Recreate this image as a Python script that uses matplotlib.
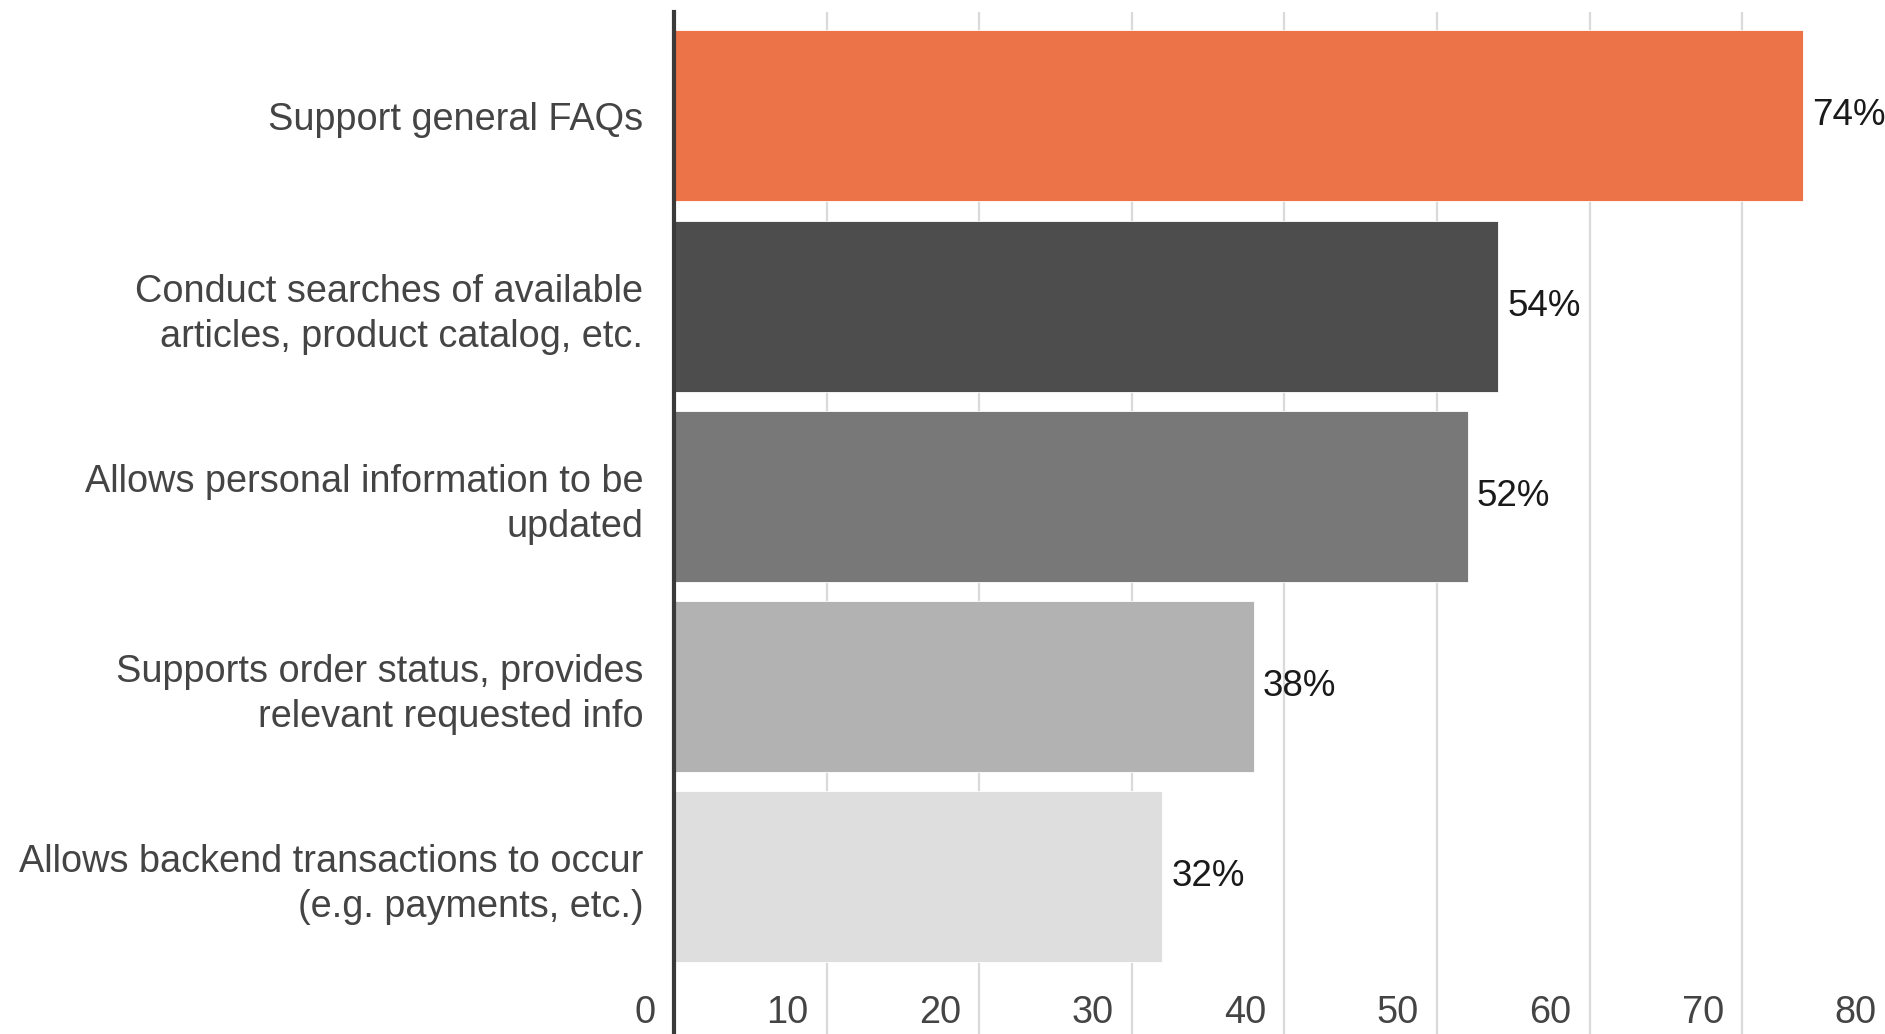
import matplotlib.pyplot as plt

# Survey results: share of respondents per chatbot capability
categories = [
    "Support general FAQs",
    "Conduct searches of available\narticles, product catalog, etc.",
    "Allows personal information to be\nupdated",
    "Supports order status, provides\nrelevant requested info",
    "Allows backend transactions to occur\n(e.g. payments, etc.)",
]
values = [74, 54, 52, 38, 32]
bar_colors = ["#EB7347", "#4D4D4D", "#787878", "#B3B2B3", "#DEDEDE"]
x_ticks = [0, 10, 20, 30, 40, 50, 60, 70, 80]

plt.rcParams['font.family'] = ['Liberation Sans', 'DejaVu Sans']

W, H = 1885, 1034
fig = plt.figure(figsize=(W / 100, H / 100), dpi=100)

# axes spans down to the bottom edge; x=0 sits at 674 px, ~15.26 px per unit
left = 674 / W
right = (674 + 80 * 15.26) / W
top = 1 - 12 / H
ax = fig.add_axes([left, 0, right - left, top])

ypos = list(range(len(categories)))
ax.barh(ypos, values, height=0.9, color=bar_colors,
        edgecolor="#ffffff", linewidth=0.6, zorder=3)

ax.set_xlim(0, 80)
ax.set_ylim(4.83, -0.547)

# vertical gridlines, the zero line drawn as a dark axis
for t in x_ticks[1:]:
    ax.axvline(t, color="#DADADA", linewidth=1.6, zorder=1)
ax.axvline(0, color="#3a3a3a", linewidth=3.0, zorder=4, clip_on=False)

for s in ax.spines.values():
    s.set_visible(False)

ax.set_xticks([])
ax.set_yticks(ypos)
ax.set_yticklabels(categories, fontsize=27.3, color="#444444",
                   linespacing=1.32)
ax.tick_params(axis="y", length=0, pad=22)

# tick numbers sit inside the plot area, just left of each gridline
for t in x_ticks:
    ax.annotate(str(t), xy=(t, 4.72), xytext=(-13, 0),
                textcoords="offset points", ha="right", va="center",
                fontsize=27.3, color="#444444")

# value labels at the end of each bar
for y, v in zip(ypos, values):
    ax.annotate(f"{v}%", xy=(v, y), xytext=(6.5, 0),
                textcoords="offset points", ha="left", va="center",
                fontsize=26.5, color="#1a1a1a", zorder=5)

fig.savefig("out.png", dpi=100, facecolor="white")
